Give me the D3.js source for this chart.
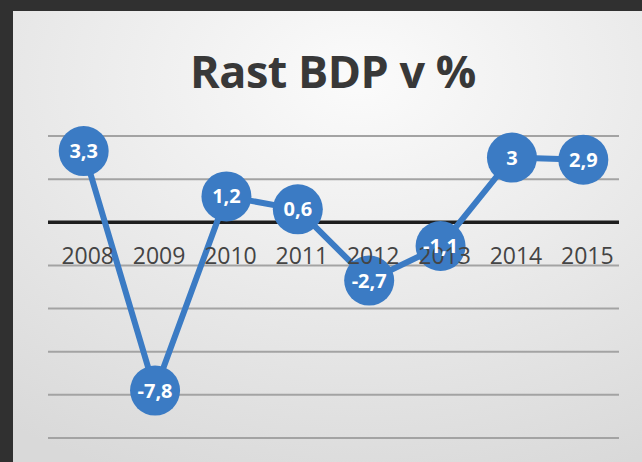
<!DOCTYPE html>
<html>
<head>
<meta charset="utf-8">
<script src="https://cdn.jsdelivr.net/npm/d3@7"></script>
<style>
  body { margin: 0; background: #303030; }
  svg { display: block; }
</style>
</head>
<body>
<svg id="chart" width="642" height="462"></svg>
<script>
// Rast BDP v % - line chart with bubble markers
const years = ["2008", "2009", "2010", "2011", "2012", "2013", "2014", "2015"];
const growth = [3.3, -7.8, 1.2, 0.6, -2.7, -1.1, 3.0, 2.9];
const gridTicks = [4, 2, 0, -2, -4, -6, -8, -10];

const width = 642, height = 462;
const svg = d3.select("#chart");

// slide background
const defs = svg.append("defs");
const grad = defs.append("radialGradient")
  .attr("id", "bg").attr("cx", "55%").attr("cy", "15%").attr("r", "95%");
grad.append("stop").attr("offset", "0%").attr("stop-color", "#fbfbfb");
grad.append("stop").attr("offset", "100%").attr("stop-color", "#d9d9d9");

svg.append("rect").attr("width", width).attr("height", height).attr("fill", "#303030");
svg.append("rect")
  .attr("x", 13).attr("y", 11)
  .attr("width", width - 13).attr("height", height - 11)
  .attr("fill", "url(#bg)");

svg.append("text")
  .attr("x", 333).attr("y", 88)
  .attr("text-anchor", "middle")
  .attr("font-family", "Open Sans, sans-serif")
  .attr("font-weight", "bold")
  .attr("font-size", 45)
  .attr("letter-spacing", -0.5)
  .attr("fill", "#383838")
  .text("Rast BDP v %");

const x = d3.scaleBand().domain(years).range([48, 619]);
const y = d3.scaleLinear().domain([-10, 4]).range([438, 136]);
const cx = (i) => x(years[i]) + x.bandwidth() / 2;

// gridlines
svg.append("g")
  .selectAll("line")
  .data(gridTicks.filter((d) => d !== 0))
  .join("line")
  .attr("x1", 48).attr("x2", 619)
  .attr("y1", (d) => y(d)).attr("y2", (d) => y(d))
  .attr("stroke", "#a3a3a3")
  .attr("stroke-width", 2);

// zero line
svg.append("line")
  .attr("x1", 48).attr("x2", 619)
  .attr("y1", y(0)).attr("y2", y(0))
  .attr("stroke", "#1e1e1e")
  .attr("stroke-width", 3.5);

const blue = "#3b7bc4";
const line = d3.line()
  .x((d, i) => cx(i))
  .y((d) => y(d));

svg.append("path")
  .datum(growth)
  .attr("d", line)
  .attr("fill", "none")
  .attr("stroke", blue)
  .attr("stroke-width", 6)
  .attr("stroke-linejoin", "round");

svg.append("g")
  .selectAll("circle")
  .data(growth)
  .join("circle")
  .attr("cx", (d, i) => cx(i))
  .attr("cy", (d) => y(d))
  .attr("r", 25)
  .attr("fill", blue);

// category labels under the zero line (drawn over the markers, as in the slide)
svg.append("g")
  .selectAll("text")
  .data(years)
  .join("text")
  .attr("x", (d) => x(d) + x.bandwidth() / 2 + 4)
  .attr("y", y(-2) - 1)
  .attr("text-anchor", "middle")
  .attr("font-family", "Open Sans, sans-serif")
  .attr("font-size", 23)
  .attr("fill", "#444444")
  .text((d) => d);

svg.append("g")
  .selectAll("text")
  .data(growth)
  .join("text")
  .attr("x", (d, i) => cx(i))
  .attr("y", (d) => y(d) + 7)
  .attr("text-anchor", "middle")
  .attr("font-family", "Open Sans, sans-serif")
  .attr("font-weight", "bold")
  .attr("font-size", 20)
  .attr("fill", "#ffffff")
  .text((d) => String(d).replace(".", ","));
</script>
</body>
</html>
